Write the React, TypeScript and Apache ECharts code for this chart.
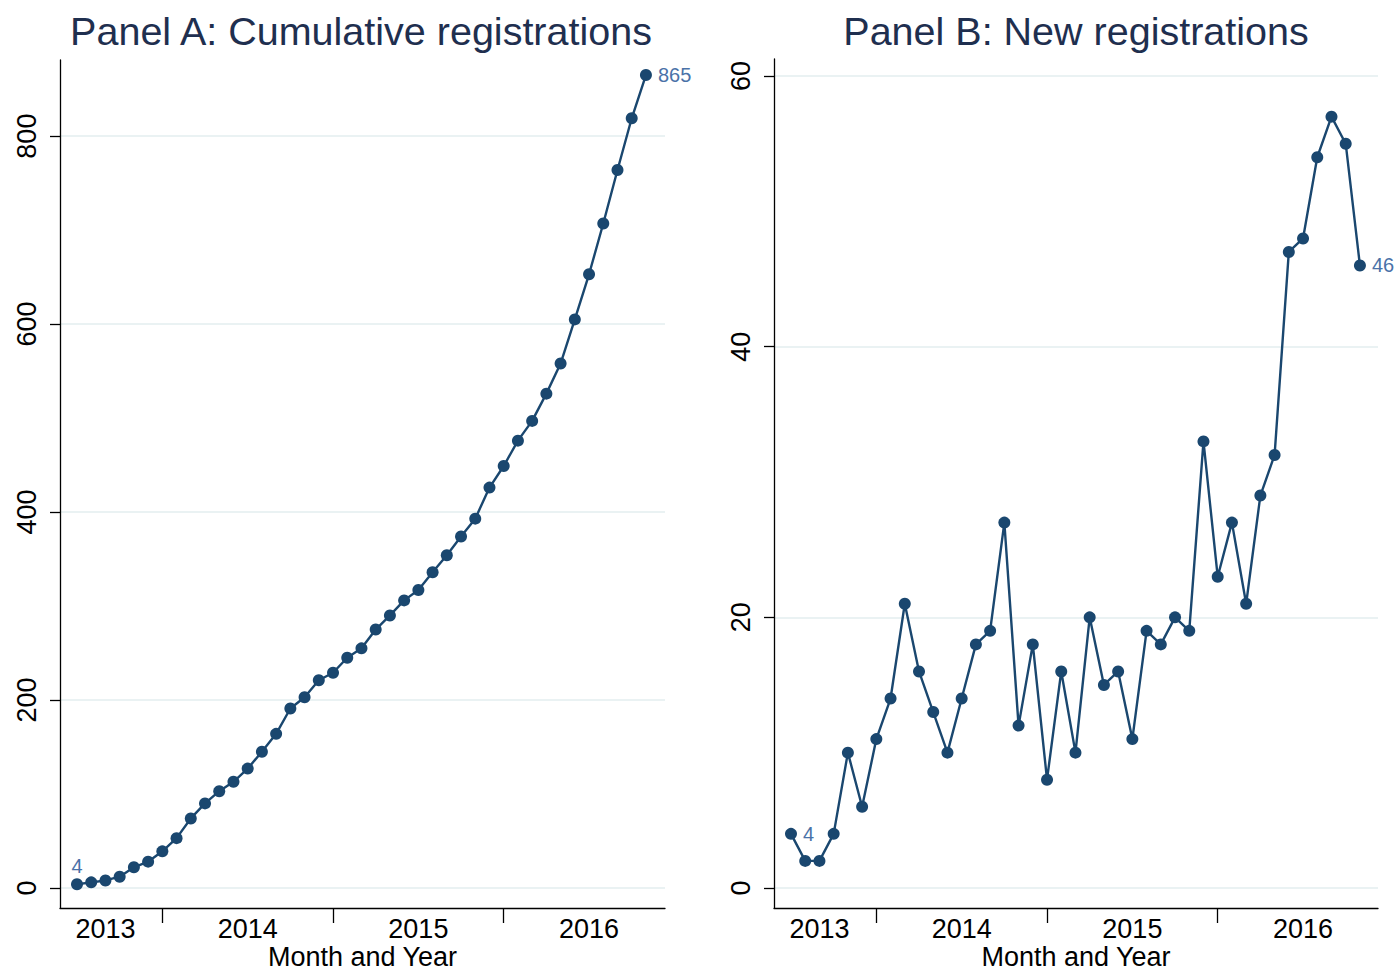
import React, { useEffect, useRef } from "react";
import * as echarts from "echarts";

// Month index 0 = first month shown (Jul 2013) ... 40 = last month (Nov 2016)
const monthIndex: number[] = Array.from({ length: 41 }, (_, i) => i);

const newRegistrations: number[] = [
  4, 2, 2, 4, 10, 6, 11, 14, 21, 16, 13, 10, 14, 18, 19, 27, 12, 18, 8, 16, 10,
  20, 15, 16, 11, 19, 18, 20, 19, 33, 23, 27, 21, 29, 32, 47, 48, 54, 57, 55, 46,
];

const cumulativeRegistrations: number[] = [
  4, 6, 8, 12, 22, 28, 39, 53, 74, 90, 103, 113, 127, 145, 164, 191, 203, 221,
  229, 245, 255, 275, 290, 306, 317, 336, 354, 374, 393, 426, 449, 476, 497, 526,
  558, 605, 653, 707, 764, 819, 865,
];

const yearLabels: string[] = ["2013", "2014", "2015", "2016"];
const yearLabelAt: number[] = [2, 12, 24, 36];
const yearTickAt: number[] = [6, 18, 30];

const cumTicks: number[] = [0, 200, 400, 600, 800];
const newTicks: number[] = [0, 20, 40, 60];

const titles: string[] = ["Panel A: Cumulative registrations", "Panel B: New registrations"];
const xAxisTitle = "Month and Year";

const FONT = "'Liberation Sans', Arial, Helvetica, sans-serif";
const LINE = "#1a476f";
const LABEL = "#4a72a8";
const GRIDC = "#eaf2f3";

export default function App() {
  const ref = useRef<HTMLDivElement>(null);
  useEffect(() => {
    if (!ref.current) return;
    const chart = echarts.init(ref.current, undefined, { renderer: "svg" });

    const xAxisCfg = (gridIndex: number, max: number) => ({
      type: "value",
      gridIndex,
      min: -1.195,
      max,
      name: xAxisTitle,
      nameLocation: "middle",
      nameGap: 35,
      nameMoveOverlap: false,
      nameTextStyle: { fontFamily: FONT, fontSize: 27, lineHeight: 27, color: "#000" },
      axisLine: { show: true, onZero: false, lineStyle: { color: "#000", width: 1.3 } },
      axisTick: {
        show: true,
        length: 15,
        customValues: yearTickAt,
        lineStyle: { color: "#000", width: 1.3 },
      },
      axisLabel: {
        customValues: yearLabelAt,
        fontFamily: FONT,
        fontSize: 27,
        lineHeight: 26,
        color: "#000",
        margin: 8,
        formatter: (v: number) => {
          const k = yearLabelAt.indexOf(Math.round(v));
          return k >= 0 ? yearLabels[k] : "";
        },
      },
      splitLine: { show: false },
    });

    const yAxisCfg = (gridIndex: number, min: number, max: number, ticks: number[]) => ({
      type: "value",
      gridIndex,
      min,
      max,
      axisLine: { show: true, onZero: false, lineStyle: { color: "#000", width: 1.3 } },
      axisTick: {
        show: true,
        length: 10,
        customValues: ticks,
        lineStyle: { color: "#000", width: 1.3 },
      },
      axisLabel: {
        customValues: ticks,
        rotate: 90,
        fontFamily: FONT,
        fontSize: 27,
        color: "#000",
        margin: 20,
      },
      splitLine: { show: true, lineStyle: { color: GRIDC, width: 2 } },
    });

    const mkData = (vals: number[], first: any, last: any) =>
      vals.map((v, i) => {
        const d: any = { value: [monthIndex[i], v] };
        if (i === 0) d.label = first;
        if (i === vals.length - 1) d.label = last;
        return d;
      });

    const lblBase = {
      show: true,
      fontFamily: FONT,
      fontSize: 20,
      color: LABEL,
      formatter: (p: any) => String(p.value[1]),
    };

    chart.setOption({
      animation: false,
      backgroundColor: "#fff",
      title: [
        {
          text: titles[0],
          left: 356,
          top: 6,
          textAlign: "center",
          textStyle: { fontFamily: FONT, fontSize: 39.5, fontWeight: "normal", color: "#1f2f4f" },
        },
        {
          text: titles[1],
          left: 1071,
          top: 6,
          textAlign: "center",
          textStyle: { fontFamily: FONT, fontSize: 39.5, fontWeight: "normal", color: "#1f2f4f" },
        },
      ],
      grid: [
        { left: 60, top: 60, width: 605, height: 848, outerBoundsMode: "none", containLabel: false },
        { left: 774, top: 59, width: 604, height: 849, outerBoundsMode: "none", containLabel: false },
      ],
      xAxis: [xAxisCfg(0, 41.34), xAxisCfg(1, 41.27)],
      yAxis: [yAxisCfg(0, -21.3, 881, cumTicks), yAxisCfg(1, -1.48, 61.26, newTicks)],
      series: [
        {
          type: "line",
          xAxisIndex: 0,
          yAxisIndex: 0,
          data: mkData(
            cumulativeRegistrations,
            { ...lblBase, position: "top", distance: 2 },
            { ...lblBase, position: "right", distance: 6 }
          ),
          symbol: "circle",
          symbolSize: 12,
          itemStyle: { color: LINE },
          lineStyle: { color: LINE, width: 2.4 },
          label: { show: false },
        },
        {
          type: "line",
          xAxisIndex: 1,
          yAxisIndex: 1,
          data: mkData(
            newRegistrations,
            { ...lblBase, position: "right", distance: 6 },
            { ...lblBase, position: "right", distance: 6 }
          ),
          symbol: "circle",
          symbolSize: 12,
          itemStyle: { color: LINE },
          lineStyle: { color: LINE, width: 2.4 },
          label: { show: false },
        },
      ],
    });
    return () => chart.dispose();
  }, []);

  return (
    <div
      ref={ref}
      style={{ position: "absolute", left: 0, top: 0, width: 1399, height: 973, background: "#fff" }}
    />
  );
}
